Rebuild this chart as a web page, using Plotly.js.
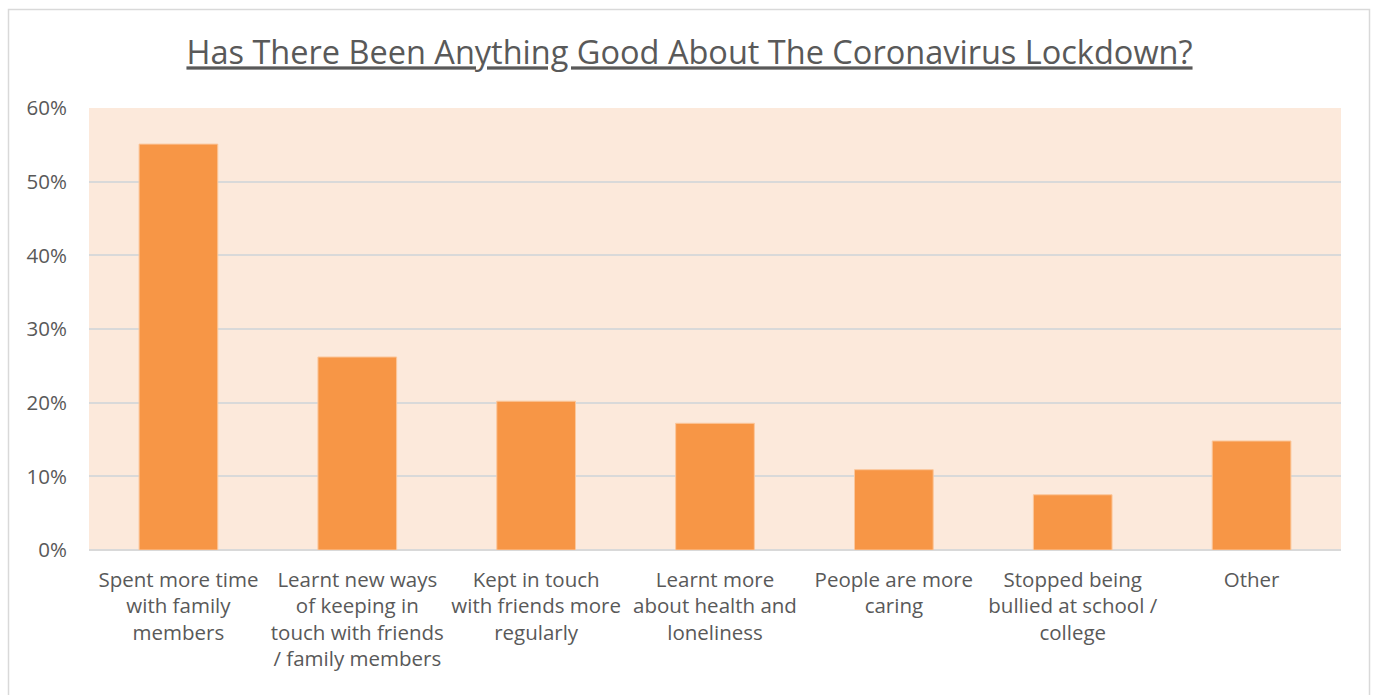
<!DOCTYPE html>
<html>
<head>
<meta charset="utf-8">
<script src="https://cdn.plot.ly/plotly-3.0.1.min.js"></script>
<style>html,body{margin:0;padding:0;background:#fff;}#chart{width:1376px;height:695px;}</style>
</head>
<body>
<div id="chart"></div>
<script>
const categories = [
  "Spent more time<br>with family<br>members",
  "Learnt new ways<br>of keeping in<br>touch with friends<br>/ family members",
  "Kept in touch<br>with friends more<br>regularly",
  "Learnt more<br>about health and<br>loneliness",
  "People are more<br>caring",
  "Stopped being<br>bullied at school /<br>college",
  "Other"
];
const values = [0.551, 0.262, 0.202, 0.172, 0.109, 0.075, 0.148];
const yTicks = [0, 0.1, 0.2, 0.3, 0.4, 0.5, 0.6];
const yTickLabels = ["0%", "10%", "20%", "30%", "40%", "50%", "60%"];
const titleText = "Has There Been Anything Good About The Coronavirus Lockdown?";

const L = 89, R = 35, T = 108, B = 145, W = 1376, H = 695;
const pw = W - L - R, ph = H - T - B;
const px = x => (x - L) / pw;
const py = y => (H - B - y) / ph;

const textColor = "#595959";
const font = "Open Sans, Noto Sans, sans-serif";

const trace = {
  type: "bar",
  x: categories,
  y: values,
  marker: { color: "#F79646", line: { color: "#FBC79C", width: 1 } },
  hoverinfo: "skip"
};

const layout = {
  width: W, height: H,
  margin: { l: L, r: R, t: T, b: B },
  paper_bgcolor: "#ffffff",
  plot_bgcolor: "#FCE9DB",
  showlegend: false,
  bargap: 0.56,
  title: {
    text: "<u>" + titleText + "</u>",
    font: { family: font, size: 32.5, color: textColor },
    x: 689.5 / W, xref: "container", xanchor: "center",
    y: 1 - 53 / H, yref: "container", yanchor: "middle"
  },
  xaxis: {
    type: "category",
    tickfont: { family: font, size: 20.5, color: textColor },
    ticks: "", showgrid: false, zeroline: false, showline: false,
    tickangle: 0, fixedrange: true, ticklabelstandoff: 15
  },
  yaxis: {
    range: [0, 0.6],
    tickvals: yTicks, ticktext: yTickLabels,
    tickfont: { family: font, size: 20.5, color: textColor },
    gridcolor: "#D9D9D9", gridwidth: 2,
    zeroline: true, zerolinecolor: "#D9D9D9", zerolinewidth: 2,
    showline: false, ticks: "", ticklabelstandoff: 21, fixedrange: true
  },
  shapes: [{
    type: "rect", xref: "paper", yref: "paper",
    x0: px(8.5), x1: px(1369.5), y0: py(720), y1: py(9.5),
    line: { color: "#D9D9D9", width: 1.5 }, fillcolor: "rgba(0,0,0,0)", layer: "below"
  }]
};

Plotly.newPlot("chart", [trace], layout, { displayModeBar: false, staticPlot: true });
</script>
</body>
</html>
